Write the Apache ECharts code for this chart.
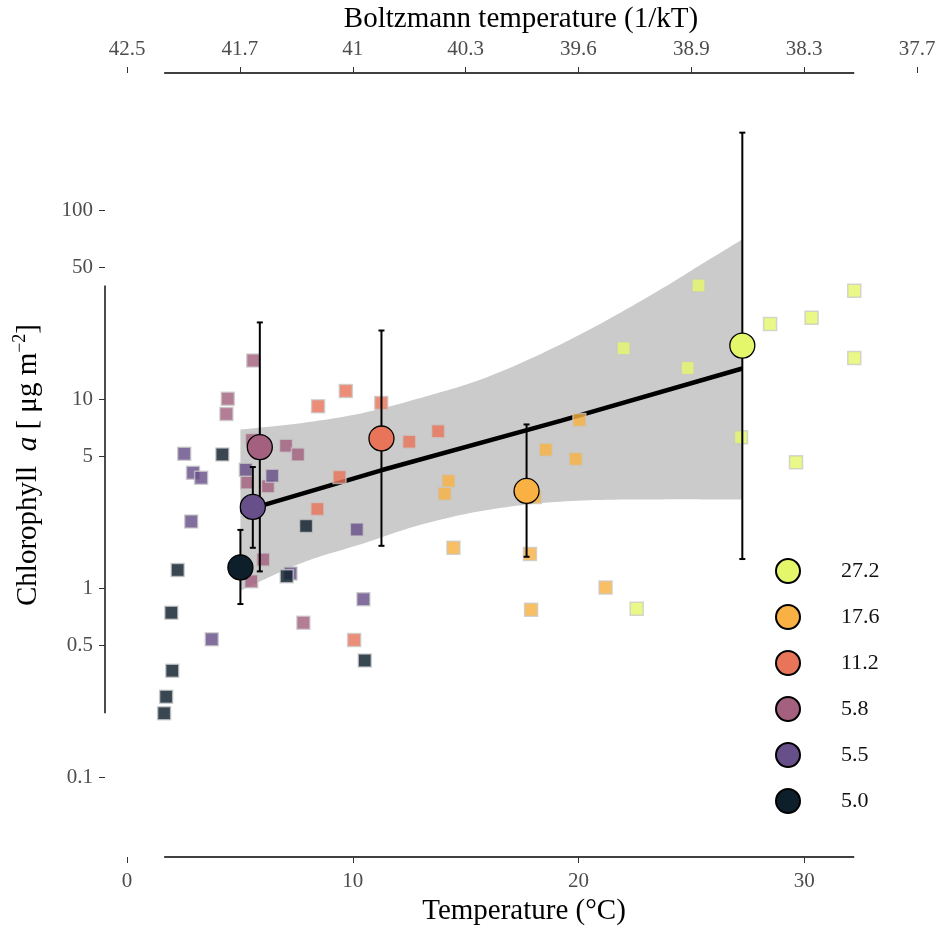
<!DOCTYPE html>
<html>
<head>
<meta charset="utf-8">
<script src="https://cdn.jsdelivr.net/npm/echarts@6/dist/echarts.min.js"></script>
<style>
  html, body { margin: 0; background: #fff; }
  #chart { width: 943px; height: 932px; }
</style>
</head>
<body>
<div id="chart"></div>
<script>
// groups (mean temperature of each site class) and colours
const groups = ['27.2', '17.6', '11.2', '5.8', '5.5', '5.0'];
const groupColors = ['#e4f76b', '#f8b142', '#e8745a', '#a3607f', '#674f89', '#0e1f2c'];

// single observations: temperature (°C) / chlorophyll a (µg m-2)
const obsT = [
  [25.32, 22.0, 24.84, 28.49, 30.33, 32.22, 32.22, 27.2, 29.64, 22.58],
  [20.04, 18.55, 19.88, 14.24, 14.07, 18.06, 14.46, 17.85, 21.2, 17.9],
  [9.69, 8.46, 11.26, 12.5, 13.78, 9.41, 8.43, 10.06],
  [5.59, 4.46, 4.40, 7.04, 7.57, 5.53, 5.32, 6.24, 6.03, 5.50, 7.81],
  [2.53, 2.92, 3.28, 5.26, 6.43, 2.84, 10.18, 7.24, 10.47, 3.75],
  [4.22, 7.93, 2.24, 7.07, 1.96, 2.0, 1.73, 1.64, 10.53]
];
const obsChl = [
  [40.2, 18.7, 14.7, 25.1, 27.1, 37.7, 16.6, 6.32, 4.65, 0.78],
  [7.8, 5.42, 4.84, 3.70, 3.17, 3.05, 1.64, 1.52, 1.01, 0.77],
  [11.1, 9.2, 9.6, 5.97, 6.8, 3.89, 2.63, 0.533],
  [16.1, 10.1, 8.39, 5.69, 5.12, 6.1, 3.64, 3.47, 1.42, 1.09, 0.658],
  [5.16, 4.09, 3.85, 4.25, 3.95, 2.26, 2.05, 1.2, 0.877, 0.537],
  [5.12, 2.14, 1.25, 1.16, 0.743, 0.366, 0.267, 0.218, 0.415]
];

// group means with error bars
const meanT = [27.26, 17.7, 11.27, 5.88, 5.57, 5.02];
const meanChl = [19.3, 3.28, 6.22, 5.6, 2.70, 1.29];
const errLow = [1.43, 1.47, 1.68, 1.23, 1.64, 0.826];
const errHigh = [259, 7.38, 23.2, 25.6, 4.39, 2.04];

// fitted line and confidence band
const fitT = [5.02, 11.26, 19.24, 27.26];
const fitChl = [2.54, 4.22, 7.74, 14.6];
const bandT = [5.02, 7.7, 10.4, 13.0, 15.7, 18.4, 21.0, 23.7, 25.5, 27.26];
const bandLow = [0.971, 1.36, 1.72, 2.17, 2.57, 2.83, 2.94, 2.96, 2.96, 2.96];
const bandHigh = [6.94, 7.50, 8.47, 10.2, 12.8, 17.6, 25.3, 38.7, 52.5, 70.5];

// ticks
const xTicks = [0, 10, 20, 30];
const topTicks = [0, 5, 10, 15, 20, 25, 30, 35];
const topLabels = ['42.5', '41.7', '41', '40.3', '39.6', '38.9', '38.3', '37.7'];
const yTicks = [0.1, 0.5, 1, 5, 10, 50, 100];
const yTickLabels = ['0.1', '0.5', '1', '5', '10', '50', '100'];

const L = v => Math.log10(v);
const font = 'Liberation Serif';
const tickGrey = '#4d4d4d';

const chart = echarts.init(document.getElementById('chart'));

const pickLabel = (ticks, labels, tf) => v => {
  const i = ticks.findIndex(t => Math.abs(tf(t) - v) < 1e-6);
  return i >= 0 ? labels[i] : '';
};

// catmull-rom through pixel points, just for a smooth band outline
const smoothPts = pts => {
  const out = [];
  for (let i = 0; i < pts.length - 1; i++) {
    const p0 = pts[Math.max(i - 1, 0)], p1 = pts[i], p2 = pts[i + 1], p3 = pts[Math.min(i + 2, pts.length - 1)];
    for (let s = 0; s < 10; s++) {
      const t = s / 10, t2 = t * t, t3 = t2 * t;
      out.push([0, 1].map(k => 0.5 * (2 * p1[k] + (-p0[k] + p2[k]) * t +
        (2 * p0[k] - 5 * p1[k] + 4 * p2[k] - p3[k]) * t2 + (-p0[k] + 3 * p1[k] - 3 * p2[k] + p3[k]) * t3)));
    }
  }
  out.push(pts[pts.length - 1]);
  return out;
};

const series = [];

// band
series.push({
  type: 'custom',
  z: 1,
  silent: true,
  data: [0],
  renderItem: (params, api) => {
    const top = smoothPts(bandT.map((t, i) => api.coord([t, L(bandHigh[i])])));
    const bot = smoothPts(bandT.map((t, i) => api.coord([t, L(bandLow[i])])));
    return { type: 'polygon', shape: { points: top.concat(bot.reverse()) }, style: { fill: '#cbcbcb' } };
  }
});

// fitted line
series.push({
  type: 'line',
  z: 2,
  silent: true,
  symbol: 'none',
  data: fitT.map((t, i) => [t, L(fitChl[i])]),
  lineStyle: { color: '#000', width: 4.5 }
});

// means first so the legend takes their look
groups.forEach((g, i) => {
  series.push({
    name: g,
    type: 'scatter',
    z: 6,
    symbol: 'circle',
    symbolSize: 25,
    data: [[meanT[i], L(meanChl[i])]],
    itemStyle: { color: groupColors[i], borderColor: '#000', borderWidth: 1.3, opacity: 1 }
  });
});

groups.forEach((g, i) => {
  series.push({
    name: g,
    type: 'scatter',
    z: 3,
    symbol: 'rect',
    symbolSize: 13,
    data: obsT[i].map((t, j) => [t, L(obsChl[i][j])]),
    itemStyle: { color: groupColors[i], opacity: 0.82, borderColor: 'rgba(200,200,200,0.9)', borderWidth: 1.5 }
  });
});

// error bars
series.push({
  type: 'custom',
  z: 5,
  silent: true,
  data: meanT.map((t, i) => [t, L(errLow[i]), L(errHigh[i])]),
  renderItem: (params, api) => {
    const lo = api.coord([api.value(0), api.value(1)]);
    const hi = api.coord([api.value(0), api.value(2)]);
    const w = 3;
    const st = { stroke: '#000', lineWidth: 2 };
    return {
      type: 'group',
      children: [
        { type: 'line', shape: { x1: lo[0], y1: lo[1], x2: hi[0], y2: hi[1] }, style: st },
        { type: 'line', shape: { x1: lo[0] - w, y1: lo[1], x2: lo[0] + w, y2: lo[1] }, style: st },
        { type: 'line', shape: { x1: hi[0] - w, y1: hi[1], x2: hi[0] + w, y2: hi[1] }, style: st }
      ]
    };
  }
});

const yMinLog = L(0.0378), yMaxLog = L(536);
const tickStyle = { color: '#333', width: 1 };

chart.setOption({
  animation: false,
  backgroundColor: '#fff',
  grid: { left: 105, right: 26, top: 71, bottom: 75 },
  legend: {
    orient: 'vertical',
    left: 770,
    top: 553,
    itemWidth: 24,
    itemHeight: 24,
    itemGap: 20,
    data: groups.map(g => ({ name: g, icon: 'circle' })),
    textStyle: { fontFamily: font, fontSize: 22, lineHeight: 24, color: '#111', padding: [0, 0, 0, 36] }
  },
  xAxis: [
    {
      type: 'value',
      position: 'bottom',
      min: -0.98,
      max: 35,
      name: 'Temperature (°C)',
      nameLocation: 'middle',
      nameGap: 40,
      nameTextStyle: { fontFamily: font, fontSize: 29, color: '#000', padding: [0, 0, 0, 26] },
      axisLine: { show: false, onZero: false },
      splitLine: { show: false },
      axisTick: { show: true, length: 6, customValues: xTicks, lineStyle: tickStyle },
      axisLabel: { customValues: xTicks, margin: 14, fontFamily: font, fontSize: 21, color: tickGrey }
    },
    {
      type: 'value',
      position: 'top',
      min: -0.98,
      max: 35,
      name: 'Boltzmann temperature (1/kT)',
      nameLocation: 'middle',
      nameGap: 39,
      nameTextStyle: { fontFamily: font, fontSize: 29, color: '#000', padding: [0, 0, 0, 20] },
      axisLine: { show: false, onZero: false },
      splitLine: { show: false },
      axisTick: { show: true, length: 6, customValues: topTicks, lineStyle: tickStyle },
      axisLabel: {
        customValues: topTicks, margin: 13, fontFamily: font, fontSize: 21, color: tickGrey,
        formatter: pickLabel(topTicks, topLabels, t => t)
      }
    }
  ],
  yAxis: {
    type: 'value',
    min: yMinLog,
    max: yMaxLog,
    name: '{n|Chlorophyll }{i| a}{n| [ μg m}{s|−2}{n|]}',
    nameLocation: 'middle',
    nameGap: 60,
    nameRotate: 90,
    nameTextStyle: {
      fontFamily: font,
      rich: {
        n: { fontFamily: font, fontSize: 29, color: '#000', lineHeight: 34 },
        i: { fontFamily: font, fontSize: 29, color: '#000', lineHeight: 34, fontStyle: 'italic' },
        s: { fontFamily: font, fontSize: 18, color: '#000', lineHeight: 17, verticalAlign: 'top' }
      }
    },
    axisLine: { show: false, onZero: false },
    splitLine: { show: false },
    axisTick: { show: true, length: 6, customValues: yTicks.map(L), lineStyle: tickStyle },
    axisLabel: {
      customValues: yTicks.map(L), margin: 12, fontFamily: font, fontSize: 21, color: tickGrey,
      formatter: pickLabel(yTicks, yTickLabels, L)
    }
  },
  series
});

// range-frame axis lines spanning the observed data
const allT = [].concat(...obsT);
const allChl = [].concat(...obsChl);
const tLo = Math.min(...allT), tHi = Math.max(...allT);
const cLo = Math.min(...allChl), cHi = Math.max(...allChl);
const px = v => chart.convertToPixel({ xAxisIndex: 0, yAxisIndex: 0 }, v);
const b1 = px([tLo, yMinLog]), b2 = px([tHi, yMinLog]);
const t1 = px([tLo, yMaxLog]), t2 = px([tHi, yMaxLog]);
const l1 = px([-0.98, L(cLo)]), l2 = px([-0.98, L(cHi)]);
const frameStyle = { stroke: '#000', lineWidth: 1.4 };
chart.setOption({
  graphic: [
    { type: 'line', shape: { x1: b1[0], y1: b1[1], x2: b2[0], y2: b2[1] }, style: frameStyle, silent: true },
    { type: 'line', shape: { x1: t1[0], y1: t1[1], x2: t2[0], y2: t2[1] }, style: frameStyle, silent: true },
    { type: 'line', shape: { x1: l1[0], y1: l1[1], x2: l2[0], y2: l2[1] }, style: frameStyle, silent: true }
  ]
});
</script>
</body>
</html>
